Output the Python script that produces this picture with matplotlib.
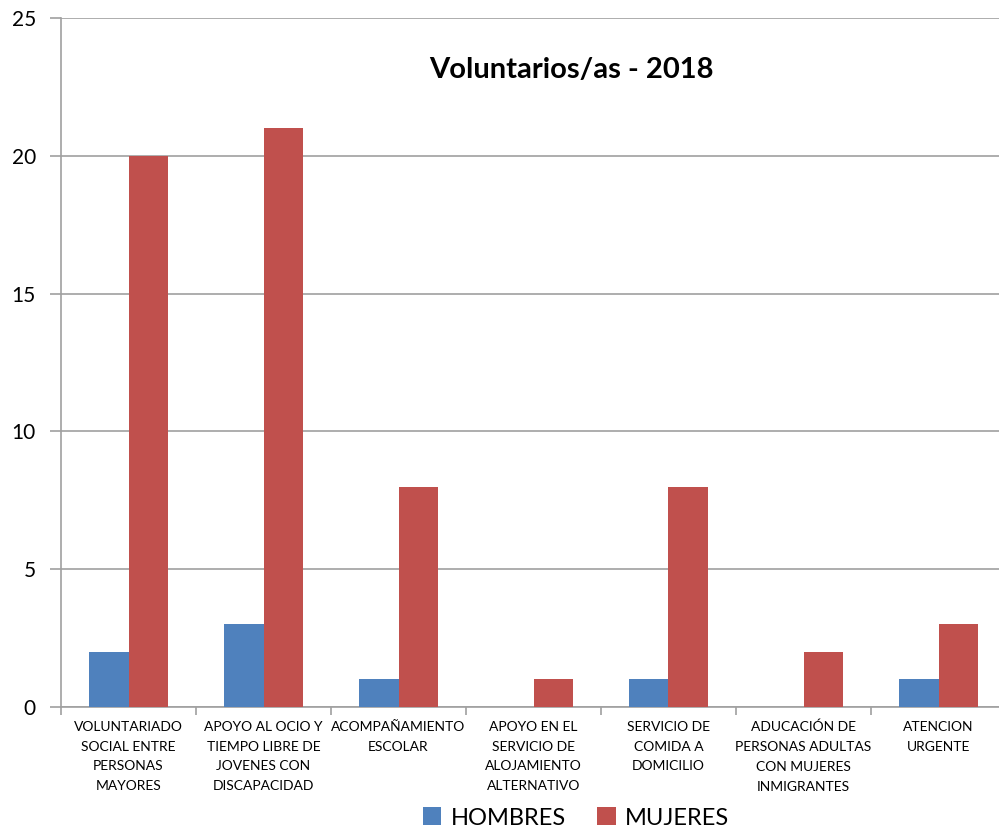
import matplotlib
matplotlib.use("Agg")
import matplotlib.pyplot as plt
import numpy as np

categories = [
    "VOLUNTARIADO\nSOCIAL ENTRE\nPERSONAS\nMAYORES",
    "APOYO AL OCIO Y\nTIEMPO LIBRE DE\nJOVENES CON\nDISCAPACIDAD",
    "ACOMPAÑAMIENTO\nESCOLAR",
    "APOYO EN EL\nSERVICIO DE\nALOJAMIENTO\nALTERNATIVO",
    "SERVICIO DE\nCOMIDA A\nDOMICILIO",
    "ADUCACIÓN DE\nPERSONAS ADULTAS\nCON MUJERES\nINMIGRANTES",
    "ATENCION\nURGENTE",
]
hombres = [2, 3, 1, 0, 1, 0, 1]
mujeres = [20, 21, 8, 1, 8, 2, 3]
yticks = [0, 5, 10, 15, 20, 25]

plt.rcParams['font.family'] = ['Lato', 'DejaVu Sans']

fig = plt.figure(figsize=(9.99, 8.32), dpi=100)
ax = fig.add_axes([61/999, 1 - 707/832, 945/999, (707-18)/832])

x = np.arange(len(categories))
w = 0.29
ax.bar(x - w/2, hombres, w, color='#4F81BD', label='HOMBRES', zorder=3)
ax.bar(x + w/2, mujeres, w, color='#C0504D', label='MUJERES', zorder=3)

ax.set_xlim(-0.5, len(categories) - 0.5)
ax.set_ylim(0, 25)
ax.set_yticks(yticks)
ax.set_yticklabels([str(v) for v in yticks], fontsize=15)
ax.yaxis.grid(True, color='#A0A0A0', linewidth=1.2, zorder=0)
ax.tick_params(axis='y', length=8, color='#A0A0A0', width=1.2, pad=10)

ax.set_xticks(np.arange(len(categories) + 1) - 0.5)
ax.set_xticklabels([])
ax.set_xticks(x, minor=True)
ax.set_xticklabels(categories, minor=True, fontsize=10, linespacing=1.78)
ax.tick_params(axis='x', which='major', length=6, color='#A0A0A0', width=1.2)
ax.tick_params(axis='x', which='minor', length=0, pad=10)

for s in ['top', 'right']:
    ax.spines[s].set_visible(False)
for s in ['left', 'bottom']:
    ax.spines[s].set_color('#A0A0A0')
    ax.spines[s].set_linewidth(1.2)

ax.text((571 - 61) / 945, 1 - (70 - 18) / 689, "Voluntarios/as - 2018", transform=ax.transAxes,
        ha='center', va='center', fontsize=21, fontweight='bold')

fig.legend(loc='center', bbox_to_anchor=(576/999, 1 - 818/832), ncol=2,
           frameon=False, fontsize=17, handlelength=0.8, handleheight=0.8,
           handletextpad=0.4, columnspacing=1.3, borderaxespad=0)

fig.savefig("out.png", dpi=100)
